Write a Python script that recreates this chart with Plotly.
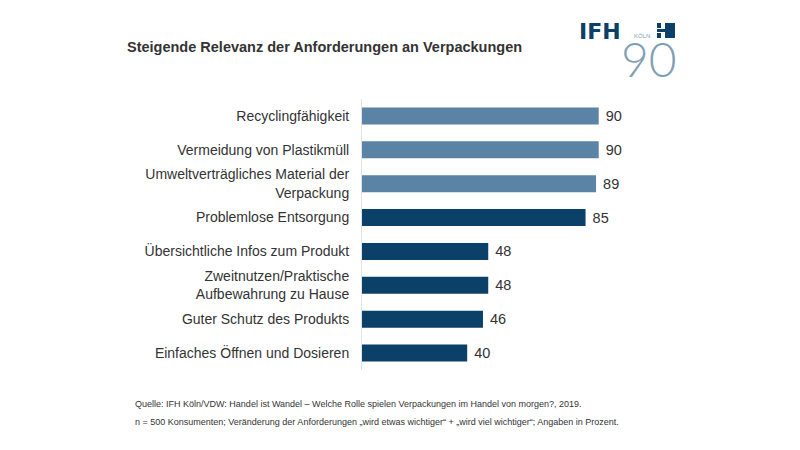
import plotly.graph_objects as go

categories = [
    "Recyclingfähigkeit",
    "Vermeidung von Plastikmüll",
    "Umweltverträgliches Material der<br>Verpackung",
    "Problemlose Entsorgung",
    "Übersichtliche Infos zum Produkt",
    "Zweitnutzen/Praktische<br>Aufbewahrung zu Hause",
    "Guter Schutz des Produkts",
    "Einfaches Öffnen und Dosieren",
]
values = [90, 90, 89, 85, 48, 48, 46, 40]
highlight = [True, True, True, False, False, False, False, False]

title_text = "Steigende Relevanz der Anforderungen an Verpackungen"
source_line1 = "Quelle: IFH Köln/VDW: Handel ist Wandel – Welche Rolle spielen Verpackungen im Handel von morgen?, 2019."
source_line2 = "n = 500 Konsumenten; Veränderung der Anforderungen „wird etwas wichtiger“ + „wird viel wichtiger“; Angaben in Prozent."

LIGHT = "#5A83A6"
DARK = "#0B4069"
LOGO_LIGHT = "#7F9FB3"
colors = [LIGHT if h else DARK for h in highlight]

L, R, T, B = 362, 175, 99, 80
PW, PH = 800 - L - R, 450 - T - B


def px(x):
    return (x - L) / PW


def py(y):
    return 1 - (y - T) / PH


fig = go.Figure(go.Bar(
    x=values, y=categories, orientation="h",
    marker=dict(color=colors, line=dict(width=0)),
    text=[" " + str(v) for v in values], textposition="outside",
    textfont=dict(family="Liberation Sans, Arial, sans-serif", size=14.5, color="#333333"),
    cliponaxis=False, hoverinfo="skip",
))


def ann(text, x, y, size, color="#333333", family=None, anchor="left", weight=None):
    f = dict(size=size, color=color)
    if family:
        f["family"] = family
    if weight:
        f["weight"] = weight
    return dict(text=text, x=px(x), y=py(y), xref="paper", yref="paper", showarrow=False,
                xanchor=anchor, yanchor="middle", font=f)


fig.update_layout(
    width=800, height=450,
    paper_bgcolor="white", plot_bgcolor="white",
    margin=dict(l=L, r=R, t=T, b=B),
    showlegend=False, bargap=0.5,
    font=dict(family="Liberation Sans, Arial, sans-serif", color="#333333"),
    xaxis=dict(range=[0, 100], visible=False, fixedrange=True),
    yaxis=dict(autorange="reversed", showline=True, linecolor="#E3E3E3", linewidth=1,
               showgrid=False, zeroline=False, ticks="", ticklabelstandoff=9,
               tickfont=dict(size=14, color="#333333"), fixedrange=True),
    annotations=[
        ann("<b>" + title_text + "</b>", 125, 47, 14.5),
        ann(source_line1, 133, 404, 9),
        ann(source_line2, 133, 422, 9),
        ann("<b>IFH</b>", 577, 31, 22, "#0B4069", "DejaVu Sans, sans-serif"),
        ann("KÖLN", 632, 36, 6, LOGO_LIGHT),
        ann("90", 619, 58, 48, LOGO_LIGHT,
            "DejaVu Sans ExtraLight, Lato Light, Roboto Light, sans-serif", weight=200),
    ],
)

# logo block mark
for (x0, x1, y0, y1) in [(657, 661, 23, 28), (657, 661, 33, 38), (665, 675, 23, 38), (657, 665, 29, 32)]:
    fig.add_shape(type="rect", xref="paper", yref="paper",
                  x0=px(x0), x1=px(x1), y0=py(y1), y1=py(y0),
                  fillcolor="#0B4069", line=dict(width=0))

fig.write_html("out.html", config={"displayModeBar": False},
               post_script="document.body.style.margin='0';document.body.style.padding='0';")
